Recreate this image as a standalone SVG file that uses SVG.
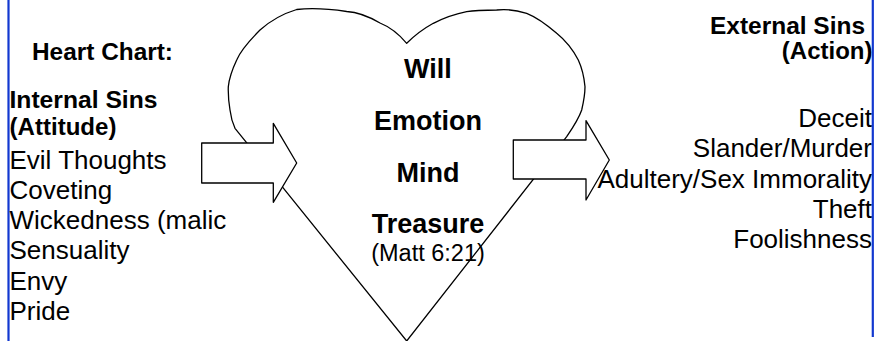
<svg xmlns="http://www.w3.org/2000/svg" width="875" height="341" viewBox="0 0 875 341">
<style>
.t{font-family:"Liberation Sans",Arial,sans-serif;fill:#000}
.r{font-size:26px}
.b{font-size:24px;font-weight:bold}
.c{font-size:27px;font-weight:bold}
.shape{fill:#fff;stroke:#000;stroke-width:1.3;stroke-linejoin:round}
.edge{stroke:#1238d0;stroke-width:2.2}
</style>
<rect width="875" height="341" fill="#fff"/>
<g id="borders">
<line class="edge" x1="8.5" y1="0" x2="8.5" y2="341"/>
<line class="edge" x1="872.8" y1="0" x2="872.8" y2="337"/>
</g>
<g id="heart">
<path class="shape" d="M406.7,43.3 C398,33 390,27 380,23 C368,16 356,12 346.7,11.5 C330,9 310,8 296.7,9.5 C282,14 270,21 260,30 C248,42 240,52 236.7,60 C231,72 229,80 228.3,86.7 C228,96 229,104 230,110 C231,118 233,124 235,128.3 L406.7,341 L566.7,136.7 C574,126 579,118 581.7,110 C584,100 585,94 585,86.7 C584,76 582,68 578.3,60 C572,48 565,40 556.7,33.3 C546,24 536,17 526.7,13.3 C516,10 506,9 496.7,10 C486,10 476,10 466.7,11.7 C455,14 444,18 433.3,23.3 C423,29 414,36 406.7,43.3 Z"/>
</g>
<g id="connectors">
<polygon id="arrow-in" class="shape" points="201.7,143 273.3,143 273.3,123.3 296.7,163 273.3,202.3 273.3,183 201.7,183"/>
<polygon id="arrow-out" class="shape" points="513.3,140 586,140 586,120.7 609.3,160 586,200 586,179 513.3,179"/>
</g>
<g id="internal">
<text class="t b" x="32" y="60" textLength="141" lengthAdjust="spacingAndGlyphs">Heart Chart:</text>
<text class="t b" x="9.5" y="108" textLength="148" lengthAdjust="spacingAndGlyphs">Internal Sins</text>
<text class="t b" x="9.5" y="134.5" textLength="107" lengthAdjust="spacingAndGlyphs">(Attitude)</text>
<text class="t r" x="9.5" y="169">Evil Thoughts</text>
<text class="t r" x="9.5" y="199">Coveting</text>
<text class="t r" x="9.5" y="229">Wickedness (malic</text>
<text class="t r" x="9.5" y="259">Sensuality</text>
<text class="t r" x="9.5" y="289.5">Envy</text>
<text class="t r" x="9.5" y="320">Pride</text>
</g>
<g id="center" text-anchor="middle">
<text class="t c" x="428" y="78">Will</text>
<text class="t c" x="428" y="130">Emotion</text>
<text class="t c" x="428" y="182">Mind</text>
<text class="t c" x="428" y="233">Treasure</text>
<text class="t" style="font-size:23.5px" x="428" y="261">(Matt 6:21)</text>
</g>
<g id="external" text-anchor="end">
<text class="t b" x="865" y="34" textLength="155" lengthAdjust="spacingAndGlyphs">External Sins</text>
<text class="t b" x="872.5" y="59">(Action)</text>
<text class="t r" x="872" y="127">Deceit</text>
<text class="t r" x="872" y="157">Slander/Murder</text>
<text class="t r" x="872" y="187.5">Adultery/Sex Immorality</text>
<text class="t r" x="872" y="217.5">Theft</text>
<text class="t r" x="872" y="248">Foolishness</text>
</g>
</svg>
